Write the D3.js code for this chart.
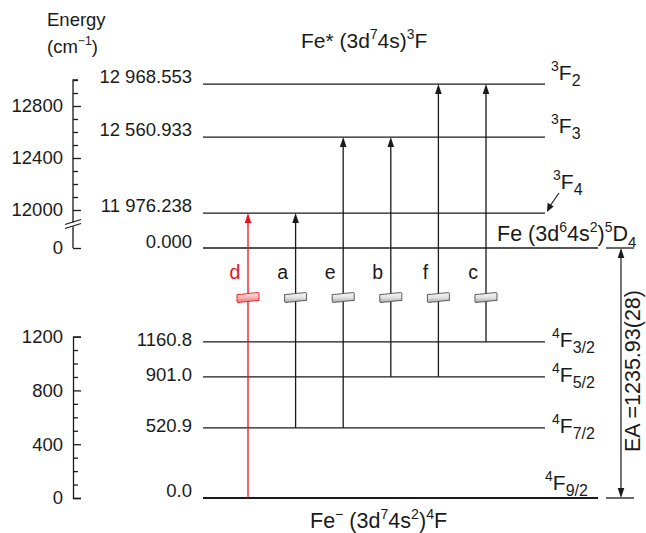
<!DOCTYPE html>
<html>
<head>
<meta charset="utf-8">
<script src="https://cdn.jsdelivr.net/npm/d3@7"></script>
<style>
  body { margin: 0; background: #fff; }
  text { font-family: "Liberation Sans", Arial, sans-serif; fill: #1a1a1a; }
</style>
</head>
<body>
<script>
// levels of Fe* (neutral, excited) and Fe- (anion), in cm-1
const upperEnergies = [11976.238, 12560.933, 12968.553];
const upperLabels = ["11 976.238", "12 560.933", "12 968.553"];
const upperJ = ["4", "3", "2"];
const anionEnergies = [0, 520.9, 901.0, 1160.8];
const anionLabels = ["0.0", "520.9", "901.0", "1160.8"];
const anionJ = ["9/2", "7/2", "5/2", "3/2"];

// photodetachment transitions
const transNames = ["d", "a", "e", "b", "f", "c"];
const transFrom = [0, 520.9, 520.9, 901.0, 901.0, 1160.8];
const transTo = [11976.238, 11976.238, 12560.933, 12560.933, 12968.553, 12968.553];

const upperTicks = d3.range(12000, 13001, 100);
const lowerTicks = d3.range(0, 1201, 100);
const eaLabel = "EA =1235.93(28)";

const W = 646, H = 533;
const ink = "#1a1a1a", red = "#e8141b";

const svg = d3.select("body").append("svg")
    .attr("width", W)
    .attr("height", H);

// upper scale is broken between 0 and ~11900
const yTop = d3.scaleLinear().domain([0, 11900, 13000]).range([248, 223, 80]);
const yLow = d3.scaleLinear().domain([0, 1200]).range([498, 336.6]);
const x = d3.scalePoint().domain(transNames).range([248, 486]);

const defs = svg.append("defs");
function grad(id, stops) {
    const g = defs.append("linearGradient").attr("id", id)
        .attr("x1", 0).attr("y1", 0).attr("x2", 0).attr("y2", 1);
    stops.forEach((c, i) => g.append("stop")
        .attr("offset", (i / (stops.length - 1) * 100) + "%").attr("stop-color", c));
}
grad("gGray", ["#f8f8f8", "#e2e2e2", "#a8a8a8"]);
grad("gRed", ["#fde6e6", "#f8b4b4", "#e97676"]);

// rich text helper: parts = [[text, "sup"|"sub"|null]]
function rich(g, px, py, parts, size, supSize, subSize) {
    supSize = supSize || 0.66 * size;
    subSize = subSize || 0.66 * size;
    const t = g.append("text").attr("x", px).attr("y", py).style("font-size", size + "px");
    let cur = 0;
    parts.forEach(([s, kind]) => {
        const off = kind === "sup" ? -0.42 * size : kind === "sub" ? 0.3 * size : 0;
        t.append("tspan")
            .attr("dy", off - cur)
            .style("font-size", (kind === "sup" ? supSize : kind === "sub" ? subSize : size) + "px")
            .text(s);
        cur = off;
    });
    return t;
}

// ---- axes ----
const axisX = 73;
const axU = svg.append("g")
    .attr("transform", "translate(" + axisX + ",0)")
    .attr("color", ink)
    .call(d3.axisLeft(yTop)
        .tickValues([0].concat(upperTicks))
        .tickSizeInner(-5).tickSizeOuter(0).tickPadding(10)
        .tickFormat(d => d % 400 === 0 ? d : ""));
axU.select(".domain").remove();
axU.selectAll(".tick line").attr("x2", d => d % 400 === 0 ? 8 : 5).attr("stroke-width", 1.3);
axU.selectAll(".tick text").style("font-size", "18.5px").style("font-family", "Liberation Sans, Arial, sans-serif");

// axis line in two pieces with the break between
const seg = d3.line();
axU.append("path").attr("fill", "none").attr("stroke", ink).attr("stroke-width", 1.3)
    .attr("d", seg([[5, yTop(13000)], [0, yTop(13000)], [0, 222.5]]));
axU.append("path").attr("fill", "none").attr("stroke", ink).attr("stroke-width", 1.3)
    .attr("d", seg([[0, 226.5], [0, yTop(0)]]));
axU.append("path").attr("fill", "none").attr("stroke", ink).attr("stroke-width", 1.2)
    .attr("d", "M-8,224.5L8,219.5M-8,228.5L8,223.5");

const axL = svg.append("g")
    .attr("transform", "translate(" + axisX + ",0)")
    .attr("color", ink)
    .call(d3.axisLeft(yLow)
        .tickValues(lowerTicks)
        .tickSizeInner(-5).tickSizeOuter(-8).tickPadding(10)
        .tickFormat(d => d % 400 === 0 ? d : ""));
axL.select(".domain").attr("stroke-width", 1.3);
axL.selectAll(".tick line").attr("x2", d => d % 400 === 0 ? 8 : 5).attr("stroke-width", 1.3);
axL.selectAll(".tick text").style("font-size", "18.5px").style("font-family", "Liberation Sans, Arial, sans-serif");

svg.append("text").attr("x", 47).attr("y", 26).style("font-size", "18.5px").text("Energy");
rich(svg, 47, 53, [["(cm", null], ["\u22121", "sup"], [")", null]], 18.5);

// ---- levels ----
const lx0 = 203, lx1 = 545, lxG = 598;
const levels = svg.append("g").attr("stroke", ink);
const termSize = 21, termSup = 14, termSub = 16;

upperEnergies.forEach((e, i) => {
    const y = yTop(e);
    levels.append("line").attr("x1", lx0).attr("x2", lx1).attr("y1", y).attr("y2", y).attr("stroke-width", 1.3);
    svg.append("text").attr("x", 192).attr("y", y - 1).attr("text-anchor", "end")
        .style("font-size", "18.5px").text(upperLabels[i]);
    const four = upperJ[i] === "4";
    rich(svg, four ? 553 : 551, four ? 189 : y - 4,
        [["3", "sup"], ["F", null], [upperJ[i], "sub"]], termSize, termSup, termSub);
});

// pointer from 3F4 label to its level
svg.append("line").attr("x1", 559).attr("y1", 193).attr("x2", 550).attr("y2", 206)
    .attr("stroke", ink).attr("stroke-width", 1.2);
svg.append("path").attr("fill", ink)
    .attr("d", "M547,212L547.6,202.8L553.6,206.6Z");

// neutral ground Fe 5D4
const yN = yTop(0);
levels.append("line").attr("x1", lx0).attr("x2", lxG).attr("y1", yN).attr("y2", yN).attr("stroke-width", 1.3);
svg.append("text").attr("x", 192).attr("y", yN).attr("text-anchor", "end")
    .style("font-size", "18.5px").text("0.000");
rich(svg, 497, 241, [["Fe (3d", null], ["6", "sup"], ["4s", null], ["2", "sup"], [")", null],
    ["5", "sup"], ["D", null], ["4", "sub"]], 21.5, 14, 15);

anionEnergies.forEach((e, i) => {
    const y = yLow(e);
    const ground = e === 0;
    levels.append("line").attr("x1", lx0).attr("x2", ground ? lxG : lx1).attr("y1", y).attr("y2", y)
        .attr("stroke-width", ground ? 2.2 : 1.3);
    svg.append("text").attr("x", 192).attr("y", ground ? y - 1 : y + 4).attr("text-anchor", "end")
        .style("font-size", "18.5px").text(anionLabels[i]);
    rich(svg, ground ? 545 : 552, ground ? y - 8 : y + 5,
        [["4", "sup"], ["F", null], [anionJ[i], "sub"]], termSize, termSup, termSub);
});

// ---- transitions ----
const tg = svg.append("g");
transNames.forEach((n, i) => {
    const xi = x(n);
    const col = n === "d" ? red : ink;
    const y1 = yLow(transFrom[i]), y2 = yTop(transTo[i]);
    tg.append("line").attr("x1", xi).attr("x2", xi).attr("y1", y1).attr("y2", y2 + 8)
        .attr("stroke", col).attr("stroke-width", 1.3);
    tg.append("path").attr("fill", col)
        .attr("d", `M${xi},${y2}L${xi - 3.3},${y2 + 10}L${xi + 3.3},${y2 + 10}Z`);
    tg.append("text").attr("x", xi - 13).attr("y", 279).attr("text-anchor", "middle")
        .style("font-size", "19.5px").style("fill", col).text(n);
    // small "broken axis" scroll on each arrow
    const cy = 298;
    tg.append("path")
        .attr("fill", n === "d" ? "url(#gRed)" : "url(#gGray)")
        .attr("stroke", n === "d" ? red : "#4a4a4a").attr("stroke-width", 0.9)
        .attr("d", `M${xi - 11},${cy - 3.5} C${xi - 5},${cy - 3.5} ${xi + 1},${cy - 5} ${xi + 6},${cy - 5}
                    L${xi + 10},${cy - 5.5} Q${xi + 11.5},${cy - 5.5} ${xi + 11},${cy - 3}
                    L${xi + 11},${cy + 2.5} C${xi + 5},${cy + 2.5} ${xi - 1},${cy + 4} ${xi - 6},${cy + 4}
                    L${xi - 10},${cy + 4.5} Q${xi - 11.5},${cy + 4.5} ${xi - 11},${cy + 2} Z`);
});

// ---- electron affinity ----
const yG = yLow(0), eaX = 621;
svg.append("line").attr("x1", 606).attr("x2", 634).attr("y1", yN).attr("y2", yN).attr("stroke", ink).attr("stroke-width", 1.3);
svg.append("line").attr("x1", 606).attr("x2", 634).attr("y1", yG).attr("y2", yG).attr("stroke", ink).attr("stroke-width", 1.3);
svg.append("line").attr("x1", eaX).attr("x2", eaX).attr("y1", yN + 8).attr("y2", yG - 8).attr("stroke", ink).attr("stroke-width", 1.2);
svg.append("path").attr("fill", ink).attr("d", `M${eaX},${yN}L${eaX - 3.3},${yN + 10}L${eaX + 3.3},${yN + 10}Z`);
svg.append("path").attr("fill", ink).attr("d", `M${eaX},${yG}L${eaX - 3.3},${yG - 10}L${eaX + 3.3},${yG - 10}Z`);
svg.append("text").attr("transform", `translate(640,${(yN + yG) / 2 - 2}) rotate(-90)`)
    .attr("text-anchor", "middle").style("font-size", "21.5px").text(eaLabel);

// ---- state titles ----
rich(svg, 301, 48, [["Fe* (3d", null], ["7", "sup"], ["4s)", null], ["3", "sup"], ["F", null]], 21);
rich(svg, 310, 528, [["Fe", null], ["\u2212", "sup"], [" (3d", null], ["7", "sup"], ["4s", null], ["2", "sup"],
    [")", null], ["4", "sup"], ["F", null]], 21.5);
</script>
</body>
</html>
